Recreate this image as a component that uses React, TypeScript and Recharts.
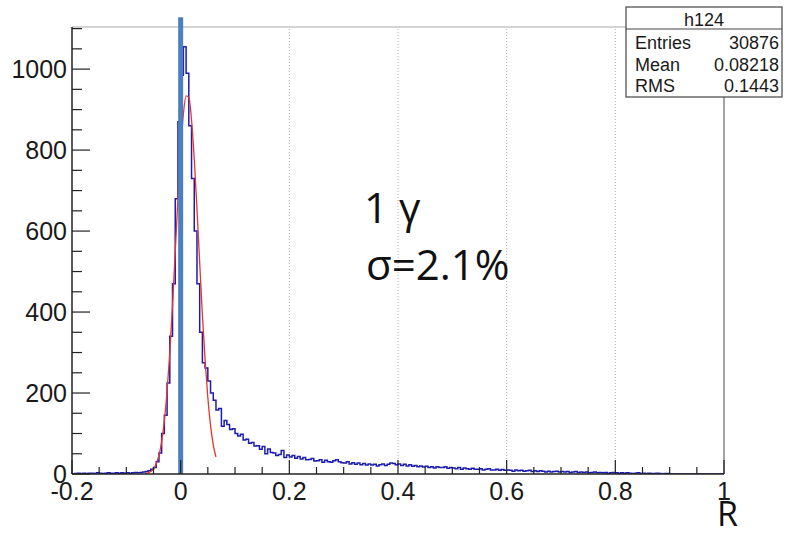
import React from 'react';
import { ComposedChart, Line, XAxis, YAxis, ReferenceLine } from 'recharts';

// Histogram: bins of width 0.005 starting at -0.2
const binStart = -0.2;
const binWidth = 0.005;
const histCounts = [
  // -0.2 .. -0.105
  0, 1, 2, 1, 2, 1, 2, 2, 1, 3, 2, 1, 2, 3, 2, 2, 3, 2, 3, 2,
  // -0.1 .. -0.005
  3, 2, 3, 4, 3, 4, 5, 6, 8, 12, 16, 30, 52, 100, 145, 225, 340, 470, 680, 870,
  // 0 .. 0.095
  985, 1055, 990, 860, 730, 600, 470, 350, 275, 262, 230, 200, 182, 158, 162, 118, 132, 122, 110, 112,
  // 0.1 .. 0.195
  100, 94, 98, 84, 86, 76, 78, 69, 70, 61, 68, 50, 62, 53, 52, 46, 48, 58, 41, 47,
  // 0.2 .. 0.295
  42, 46, 39, 43, 37, 41, 35, 36, 38, 32, 33, 35, 29, 34, 30, 29, 33, 35, 30, 28,
  // 0.3 .. 0.395
  27, 30, 25, 28, 24, 27, 23, 26, 22, 25, 22, 24, 20, 23, 25, 21, 24, 27, 26, 23,
  // 0.4 .. 0.495
  25, 21, 24, 20, 23, 19, 21, 18, 20, 17, 19, 16, 18, 15, 18, 16, 16, 18, 14, 16,
  // 0.5 .. 0.595
  15, 13, 16, 12, 15, 13, 12, 14, 12, 12, 13, 10, 12, 13, 10, 10, 12, 9, 11, 9,
  // 0.6 .. 0.695
  10, 9, 7, 10, 8, 9, 7, 8, 9, 6, 8, 6, 8, 7, 5, 7, 5, 6, 7, 5,
  // 0.7 .. 0.795
  6, 5, 6, 4, 5, 6, 4, 5, 4, 5, 3, 4, 5, 3, 4, 3, 4, 2, 3, 4,
  // 0.8 .. 0.895
  3, 2, 3, 2, 3, 2, 1, 2, 3, 1, 2, 1, 2, 1, 1, 2, 1, 0, 1, 1,
  // 0.9 .. 0.995
  0, 0, 0, 0, 0, 0, 0, 0, 0, 0, 0, 0, 0, 0, 0, 0, 0, 0, 0, 0,
];

// Gaussian fit curve
const fitX = [
  -0.065, -0.06, -0.055, -0.05, -0.045, -0.04, -0.035, -0.03, -0.025, -0.02, -0.015, -0.01, -0.005,
  0, 0.005, 0.01, 0.015, 0.02, 0.025, 0.03, 0.035, 0.04, 0.045, 0.05, 0.055, 0.06, 0.065,
];
const fitY = [
  1, 3, 6, 13, 25, 46, 80, 132, 205, 300, 417, 548, 681,
  800, 889, 934, 930, 874, 778, 655, 522, 393, 280, 189, 120, 72, 42,
];

const xTicks = [
  -0.2, -0.15, -0.1, -0.05, 0, 0.05, 0.1, 0.15, 0.2, 0.25, 0.3, 0.35, 0.4, 0.45,
  0.5, 0.55, 0.6, 0.65, 0.7, 0.75, 0.8, 0.85, 0.9, 0.95, 1,
];
const xLabelTicks = [-0.2, 0, 0.2, 0.4, 0.6, 0.8, 1];
const yTicks = [
  0, 50, 100, 150, 200, 250, 300, 350, 400, 450, 500, 550, 600, 650, 700, 750,
  800, 850, 900, 950, 1000, 1050, 1100,
];
const yLabelTicks = [0, 200, 400, 600, 800, 1000];
const gridX = [0.2, 0.4, 0.6, 0.8];
const yMax = 1104;
const markerX = 0;

const statsTitle = 'h124';
const statsNames = ['Entries', 'Mean', 'RMS'];
const statsValues = ['30876', '0.08218', '0.1443'];
const annotation1 = '1 γ';
const annotation2 = 'σ=2.1%';
const axisTitle = 'R';

const histData = histCounts.map((c, i) => ({ x: +(binStart + i * binWidth).toFixed(4), y: c }));
histData.push({
  x: +(binStart + histCounts.length * binWidth).toFixed(4),
  y: histCounts[histCounts.length - 1],
});
const fitData = fitX.map((x, i) => ({ x, y: fitY[i] }));

const tickFont = '"Liberation Sans", Arial, Helvetica, sans-serif';

const isIn = (arr: number[], v: number) => arr.some((t) => Math.abs(t - v) < 1e-6);
const fmt = (v: number) => String(Math.round(v * 10) / 10);

const XTick = (props: any) => {
  const { x, y, payload } = props;
  const v = payload.value;
  const major = isIn(xLabelTicks, v);
  return (
    <g>
      <line x1={x} x2={x} y1={y} y2={y - (major ? 14 : 7)} stroke="#222" strokeWidth={1.2} />
      {major && (
        <text x={x} y={y + 26} textAnchor="middle" fontSize={25} fontFamily={tickFont} fill="#1a1a1a">
          {fmt(v)}
        </text>
      )}
    </g>
  );
};

const YTick = (props: any) => {
  const { x, y, payload } = props;
  const v = payload.value;
  const major = isIn(yLabelTicks, v);
  return (
    <g>
      <line x1={x} x2={x + (major ? 18 : 10)} y1={y} y2={y} stroke="#222" strokeWidth={1.2} />
      {major && (
        <text x={x - 5} y={y + 8.5} textAnchor="end" fontSize={25} fontFamily={tickFont} fill="#1a1a1a">
          {String(v)}
        </text>
      )}
    </g>
  );
};

export default function App() {
  return (
    <div style={{ position: 'absolute', left: 0, top: 0, width: 797, height: 533, background: '#fff' }}>
      <ComposedChart
        width={797}
        height={533}
        margin={{ top: 27, right: 73, bottom: 29, left: 0 }}
      >
        <XAxis
          type="number"
          dataKey="x"
          domain={[-0.2, 1]}
          allowDataOverflow
          ticks={xTicks}
          interval={0}
          tick={XTick}
          tickLine={false}
          tickSize={0}
          tickMargin={0}
          height={30}
          axisLine={{ stroke: '#222', strokeWidth: 1.5 }}
        />
        <YAxis
          type="number"
          dataKey="y"
          domain={[0, yMax]}
          allowDataOverflow
          ticks={yTicks}
          interval={0}
          tick={YTick}
          tickLine={false}
          tickSize={0}
          tickMargin={0}
          width={72}
          axisLine={{ stroke: '#222', strokeWidth: 1.5 }}
        />
        {gridX.map((g) => (
          <ReferenceLine key={g} x={g} stroke="#b0b0b0" strokeDasharray="1 2" strokeWidth={1} />
        ))}
        <ReferenceLine y={yMax} stroke="#a8a8a8" strokeWidth={1.2} />
        <ReferenceLine x={1} stroke="#666" strokeWidth={1.2} />
        <Line
          data={histData}
          dataKey="y"
          type="stepAfter"
          stroke="#1c1cb0"
          strokeWidth={1.5}
          dot={false}
          isAnimationActive={false}
        />
        <Line
          data={fitData}
          dataKey="y"
          type="monotone"
          stroke="#e8342c"
          strokeWidth={1.3}
          dot={false}
          isAnimationActive={false}
        />
        <ReferenceLine
          segment={[{ x: markerX, y: 0 }, { x: markerX, y: 1128 }]}
          ifOverflow="visible"
          stroke="#4a7fc0"
          strokeWidth={5}
        />
      </ComposedChart>
      <svg
        width={797}
        height={533}
        style={{ position: 'absolute', left: 0, top: 0, pointerEvents: 'none' }}
      >
        <text x={364} y={223} fontSize={42} fontFamily='"Open Sans", sans-serif' fill="#111">
          {annotation1}
        </text>
        <text x={366} y={280} fontSize={42} fontFamily='"Open Sans", sans-serif' fill="#111">
          {annotation2}
        </text>
        <text x={717} y={526} fontSize={34} fontFamily='"Open Sans", sans-serif' fill="#111">
          {axisTitle}
        </text>
        <rect x={626} y={7} width={156} height={90} fill="#fff" stroke="#444" strokeWidth={1.2} />
        <line x1={626} x2={782} y1={29} y2={29} stroke="#444" strokeWidth={1.2} />
        <text x={704} y={26} textAnchor="middle" fontSize={18} fontFamily={tickFont} fill="#1a1a1a">
          {statsTitle}
        </text>
        {statsNames.map((n, i) => (
          <g key={n}>
            <text x={635} y={49 + i * 21.5} fontSize={18} fontFamily={tickFont} fill="#1a1a1a">
              {n}
            </text>
            <text x={779} y={49 + i * 21.5} textAnchor="end" fontSize={18} fontFamily={tickFont} fill="#1a1a1a">
              {statsValues[i]}
            </text>
          </g>
        ))}
      </svg>
    </div>
  );
}
